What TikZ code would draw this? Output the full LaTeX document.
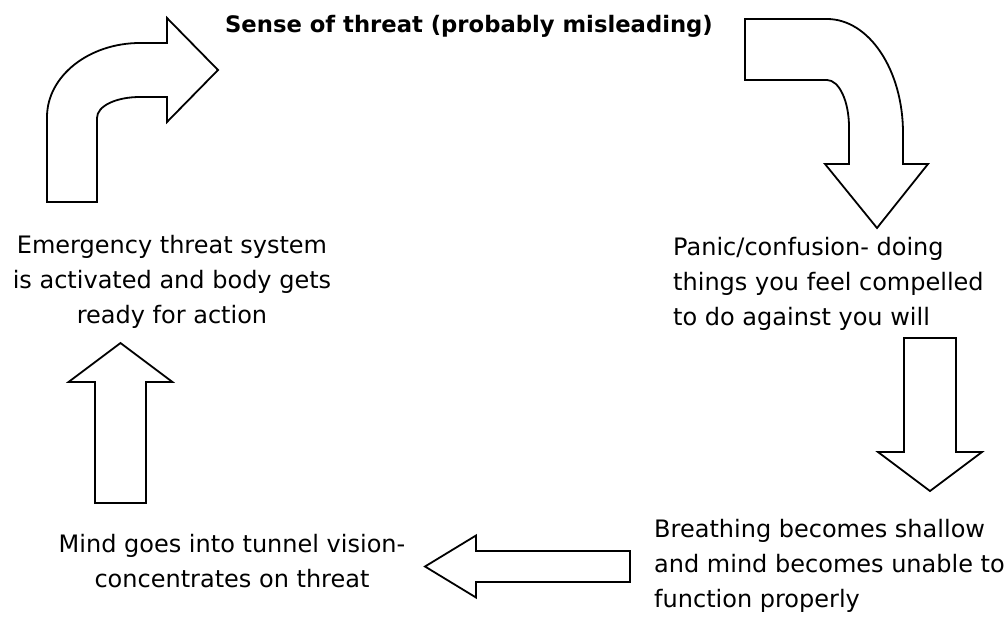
\documentclass[tikz,border=0pt]{standalone}
\usepackage{fontspec}
\setmainfont{DejaVu Sans}
\begin{document}
\begin{tikzpicture}[x=1pt, y=-1pt]
	\tikzstyle{phase}      = [inner sep=0pt, font=\fontsize{24}{35}\selectfont]
	\tikzstyle{blockarrow} = [draw=black, line width=1.8pt, fill=white, line join=miter]

	\fill[white] (0,0) rectangle (1005,627);
	\useasboundingbox (0,0) rectangle (1005,627);

	\node[phase, font=\fontsize{22.7}{30}\selectfont\bfseries, anchor=base] (threat) at (469,32) {Sense of threat (probably misleading)};
	\node[phase, align=center, anchor=north] (emergency) at (172,235) {Emergency threat system\\is activated and body gets\\ready for action};
	\node[phase, align=left, anchor=north west] (panic) at (673,237) {Panic/confusion- doing\\things you feel compelled\\to do against you will};
	\node[phase, align=left, anchor=north west] (breathing) at (654,519) {Breathing becomes shallow\\and mind becomes unable to\\function properly};
	\node[phase, align=center, anchor=north] (tunnel) at (232,534) {Mind goes into tunnel vision-\\concentrates on threat};

	\draw[blockarrow] (47,202) -- (47,117) .. controls (47,76) and (89,43) .. (140,43) -- (167,43) -- (167,18) -- (218,70) -- (167,122) -- (167,97) -- (140,97) .. controls (116,97) and (97,106) .. (97,118) -- (97,202) -- cycle;
	\draw[blockarrow] (745,19) -- (827,19) .. controls (869,19) and (903,70) .. (903,133) -- (903,164) -- (928,164) -- (877,228) -- (825,164) -- (849,164) -- (849,127) .. controls (849,101) and (839,80) .. (827,80) -- (745,80) -- cycle;

	\foreach \x/\y/\rot/\len/\shaft/\head/\tip in {930/338/-90/114/26/52/39, 630/566.5/180/154/15.5/31/51, 120.5/503/90/121/25.5/52/39}
		\draw[blockarrow, shift={(\x,\y)}, rotate=\rot] (0,-\shaft) -- (\len,-\shaft) -- (\len,-\head) -- (\len+\tip,0) -- (\len,\head) -- (\len,\shaft) -- (0,\shaft) -- cycle;
\end{tikzpicture}
\end{document}
